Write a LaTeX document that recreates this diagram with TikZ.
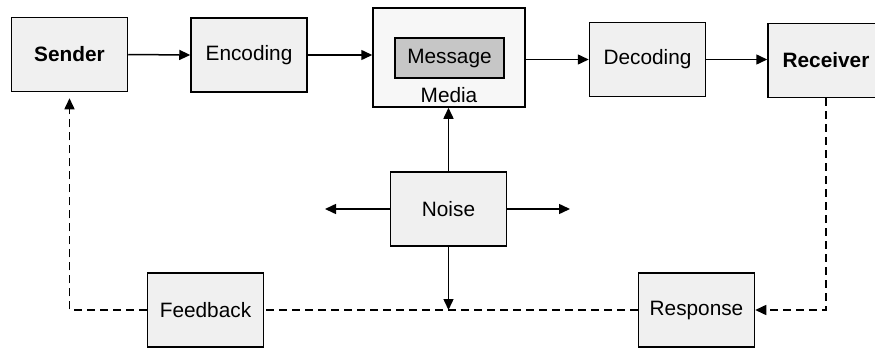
\documentclass[tikz,border=0pt]{standalone}
\usepackage{fontspec}
\setmainfont{Liberation Sans}
\usetikzlibrary{arrows.meta}

\begin{document}
\begin{tikzpicture}[x=0.5pt, y=-0.5pt,
    >={Triangle[length=5.5pt, width=5pt]},
    box/.style={draw, line width=0.75pt, fill=gray!12, minimum width=58pt,
      minimum height=37pt, inner sep=0pt, font=\fontsize{10.4}{12}\selectfont},
    link/.style={line width=0.75pt, ->},
    back/.style={line width=0.75pt, dash pattern=on 4pt off 2.5pt}]
  \useasboundingbox (0,0) rectangle (875,349);
  % ---- Top row ----
  \node[box, font=\fontsize{10.4}{12}\selectfont\bfseries] (sender) at (69.5,54.5) {Sender};
  \node[box] (encoding) at (249,55) {Encoding};
  \node[box, fill=gray!6, minimum width=76pt, minimum height=49.5pt] (media) at (449,57.5) {};
  \node[box, fill=gray!45, minimum width=54.5pt, minimum height=20pt] (message) at (449.5,58) {Message};
  \node[font=\fontsize{10.4}{12}\selectfont] (medialabel) at (449,95) {Media};
  \node[box] (decoding) at (647.5,59.5) {Decoding};
  \node[box, font=\fontsize{10.4}{12}\selectfont\bfseries] (receiver) at (826,60.5) {Receiver};
  % Arrows along the top
  \draw[link] (sender.east) -- (encoding.west);
  \draw[link] (encoding.east) -- (encoding.east -| media.west);
  \draw[link] (media.east |- decoding.west) -- (decoding.west);
  \draw[link] (decoding.east) -- (decoding.east -| receiver.west);
  % ---- Noise ----
  \node[box] (noise) at (448.5,209) {Noise};
  \coordinate (noiseL) at (325,209);
  \coordinate (noiseR) at (570,209);
  \draw[link] (noise.north) -- (media.south -| noise.north);
  \draw[link] (noise.west) -- (noiseL);
  \draw[link] (noise.east) -- (noiseR);
  % ---- Bottom row ----
  \node[box] (feedback) at (205.5,310) {Feedback};
  \node[box] (response) at (696.5,310) {Response};
  \coordinate (leftcorner) at (sender.south |- feedback.west);
  \coordinate (rightcorner) at (receiver.south |- response.east);
  % Dashed return path
  \draw[back, ->] (receiver.south) -- (rightcorner) -- (response.east);
  \draw[back] (response.west) -- (feedback.east);
  \draw[back, ->] (feedback.west) -- (leftcorner) -- ([yshift=-3pt]sender.south);
  \draw[link] (noise.south) -- (noise.south |- feedback.east);
\end{tikzpicture}
\end{document}
